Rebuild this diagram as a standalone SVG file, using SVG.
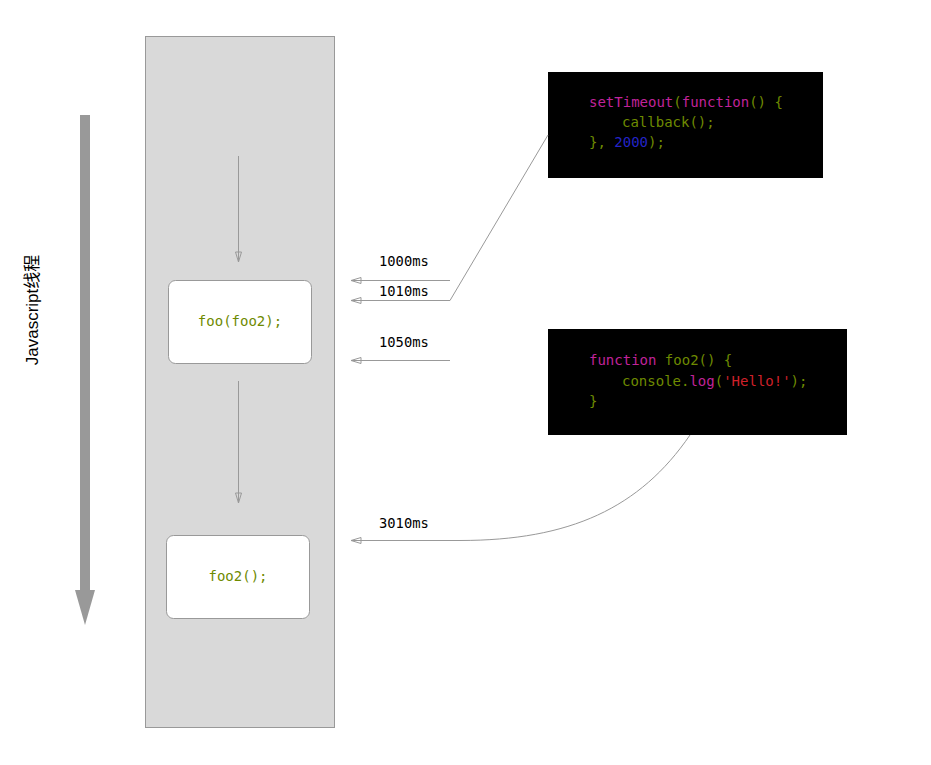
<svg xmlns="http://www.w3.org/2000/svg" width="931" height="765" viewBox="0 0 931 765">
  <style>
    .lane { fill: #d9d9d9; stroke: #999999; stroke-width: 1; }
    .node rect { fill: #ffffff; stroke: #999999; stroke-width: 1; }
    .code { font-family: "DejaVu Sans Mono", "Liberation Mono", monospace; font-size: 14px; }
    .lbl { font-family: "DejaVu Sans Mono", "Liberation Mono", monospace; font-size: 13.8px; fill: #000000; }
    .olive { fill: #6e8a00; }
    .mag { fill: #c0239a; }
    .blue { fill: #2424c8; }
    .red { fill: #d0202a; }
    .conn { fill: none; stroke: #999999; stroke-width: 1; }
    .title { font-family: "Liberation Sans", "Noto Sans CJK SC", sans-serif; font-size: 17px; fill: #000000; }
  </style>
  <defs>
    <marker id="open" viewBox="0 0 12 8" refX="11" refY="4" markerWidth="12" markerHeight="8" markerUnits="userSpaceOnUse" orient="auto">
      <path d="M1,1 L11,4 L1,7 Z" fill="none" stroke="#999999" stroke-width="1"/>
    </marker>
  </defs>

  <!-- thread timeline arrow -->
  <g id="timeline">
    <rect x="80" y="115" width="10" height="476" fill="#999999"/>
    <polygon points="75,590 95,590 85,625" fill="#999999"/>
    <text class="title" transform="translate(38,310) rotate(-90)" text-anchor="middle">Javascript线程</text>
  </g>

  <!-- call stack lane -->
  <g id="lane">
    <rect class="lane" x="145.5" y="36.5" width="189" height="691"/>
  </g>

  <g id="node-foo" class="node">
    <rect x="168.5" y="280.5" width="143" height="83" rx="7"/>
    <text class="code olive" x="240" y="326" text-anchor="middle">foo(foo2);</text>
  </g>

  <g id="node-foo2" class="node">
    <rect x="166.5" y="535.5" width="143" height="83" rx="7"/>
    <text class="code olive" x="238" y="581" text-anchor="middle">foo2();</text>
  </g>

  <g id="code-settimeout">
    <rect x="548" y="72" width="275" height="106" fill="#000000"/>
    <text class="code" x="589" y="107"><tspan class="mag">setTimeout</tspan><tspan class="olive">(</tspan><tspan class="mag">function</tspan><tspan class="olive">() {</tspan></text>
    <text class="code olive" x="622" y="127">callback();</text>
    <text class="code" x="589" y="147"><tspan class="olive">}, </tspan><tspan class="blue">2000</tspan><tspan class="olive">);</tspan></text>
  </g>

  <g id="code-foo2">
    <rect x="548" y="329" width="299" height="106" fill="#000000"/>
    <text class="code" x="589" y="365"><tspan class="mag">function</tspan><tspan class="olive"> foo2() {</tspan></text>
    <text class="code" x="622" y="386"><tspan class="olive">console.</tspan><tspan class="mag">log</tspan><tspan class="olive">(</tspan><tspan class="red">'Hello!'</tspan><tspan class="olive">);</tspan></text>
    <text class="code olive" x="589" y="406">}</text>
  </g>

  <g id="connectors">
    <line class="conn" x1="238.5" y1="156" x2="238.5" y2="262" marker-end="url(#open)"/>
    <line class="conn" x1="238.5" y1="381" x2="238.5" y2="503" marker-end="url(#open)"/>
    <line class="conn" x1="450" y1="280.5" x2="351" y2="280.5" marker-end="url(#open)"/>
    <path class="conn" d="M548,135 L450,300.5 L351,300.5" marker-end="url(#open)"/>
    <line class="conn" x1="450" y1="360.5" x2="351" y2="360.5" marker-end="url(#open)"/>
    <path class="conn" d="M690,435 C640,508 570,540.5 460,540.5 L351,540.5" marker-end="url(#open)"/>
  </g>

  <g id="labels">
    <text class="lbl" x="379" y="266">1000ms</text>
    <text class="lbl" x="379" y="296">1010ms</text>
    <text class="lbl" x="379" y="347">1050ms</text>
    <text class="lbl" x="379" y="528">3010ms</text>
  </g>
</svg>
